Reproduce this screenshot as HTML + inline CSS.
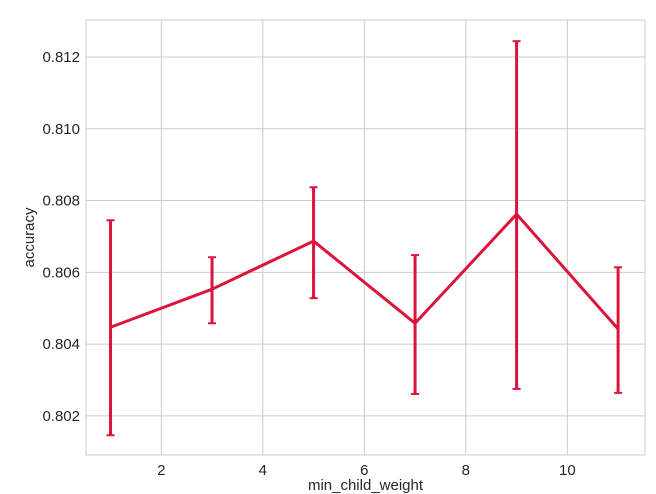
<!DOCTYPE html>
<html><head><meta charset="utf-8"><style>
html,body{margin:0;padding:0;background:#fff;}
svg{display:block;font-family:"Liberation Sans",sans-serif;}
</style></head><body>
<svg id="chart" width="656" height="494"></svg>
<script>
const xValues=[1,3,5,7,9,11];
const meanValues=[0.80447,0.80553,0.80687,0.80458,0.80762,0.80442];
const lowValues=[0.80146,0.80458,0.80528,0.80261,0.80275,0.80264];
const highValues=[0.80745,0.80642,0.80837,0.80648,0.81244,0.80614];
const xTicks=[2,4,6,8,10];
const yTicks=[0.802,0.804,0.806,0.808,0.810,0.812];

const L=86,R=645,T=20,B=455;
const xMin=0.517,xMax=11.53,yMin=0.80091,yMax=0.81303;
const sx=v=>L+(v-xMin)/(xMax-xMin)*(R-L);
const sy=v=>B-(v-yMin)/(yMax-yMin)*(B-T);
const svg=document.getElementById('chart');
const NS='http://www.w3.org/2000/svg';
function mk(tag,attrs,parent){const e=document.createElementNS(NS,tag);for(const k in attrs)e.setAttribute(k,attrs[k]);(parent||svg).appendChild(e);return e;}

const bg=mk('rect',{x:L,y:T,width:R-L,height:B-T,fill:'#fff'});



xTicks.forEach(t=>{
  const g=mk('line',{x1:sx(t),x2:sx(t),y1:T,y2:B,stroke:'#cccccc','stroke-width':1});
  
  
  const tx=mk('text',{x:sx(t),y:B+20,'text-anchor':'middle','font-size':15,fill:'#262626'});
  tx.textContent=t;
  
  
});
yTicks.forEach(t=>{
  const g=mk('line',{x1:L,x2:R,y1:sy(t),y2:sy(t),stroke:'#cccccc','stroke-width':1});
  
  
  const tx=mk('text',{x:L-6,y:sy(t)+5,'text-anchor':'end','font-size':15,fill:'#262626'});
  tx.textContent=t.toFixed(3);
  
  
});
const frame=mk('rect',{x:L,y:T,width:R-L,height:B-T,fill:'none',stroke:'#cccccc','stroke-width':1});



const C='#dc143c';
const pts=xValues.map((x,i)=>sx(x)+','+sy(meanValues[i])).join(' ');
const line=mk('polyline',{points:pts,fill:'none',stroke:C,'stroke-width':3,'stroke-linejoin':'round'});



xValues.forEach((x,i)=>{
  const X=sx(x);
  const g=mk('g',{stroke:C,'stroke-width':3});
  
  
  mk('line',{x1:X,x2:X,y1:sy(lowValues[i]),y2:sy(highValues[i])},g);
  mk('line',{x1:X-4,x2:X+4,y1:sy(lowValues[i]),y2:sy(lowValues[i]),'stroke-width':2},g);
  mk('line',{x1:X-4,x2:X+4,y1:sy(highValues[i]),y2:sy(highValues[i]),'stroke-width':2},g);
});

const xl=mk('text',{x:(L+R)/2,y:490,'text-anchor':'middle','font-size':15,fill:'#262626'});
xl.textContent='min_child_weight';


const yl=mk('text',{x:0,y:0,'text-anchor':'middle','font-size':15,fill:'#262626',transform:'translate(34,'+((T+B)/2)+') rotate(-90)'});
yl.textContent='accuracy';


</script>
</body></html>
